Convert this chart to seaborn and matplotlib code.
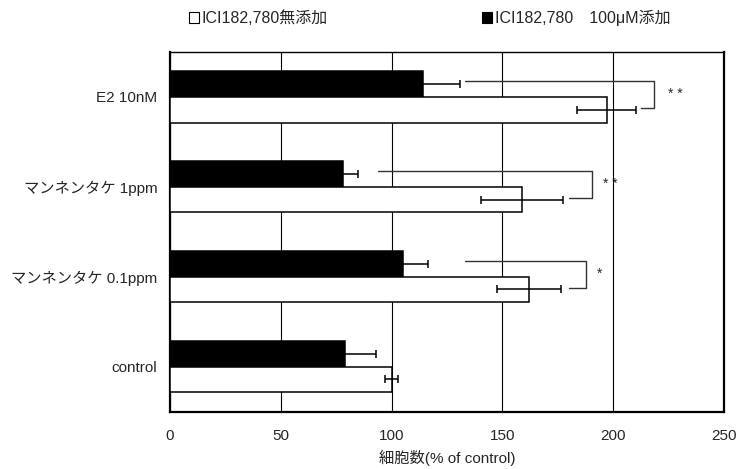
import matplotlib
matplotlib.use("Agg")
import matplotlib.pyplot as plt
from matplotlib.patches import Patch
from matplotlib.ticker import FixedLocator
import seaborn as sns
import pandas as pd
import numpy as np

# ---- data ----
categories = ["E2 10nM", "マンネンタケ 1ppm", "マンネンタケ 0.1ppm", "control"]
series_without = "ICI182,780無添加"
series_with = "ICI182,780\u3000100μM添加"
values_without = [197, 159, 162, 100]
errors_without = [13.5, 18.5, 14.5, 3]
values_with = [114, 78, 105, 79]
errors_with = [17, 7, 11.5, 14]
x_ticks = [0, 50, 100, 150, 200, 250]
x_label = "細胞数(% of control)"
# significance brackets (per category): start of upper arm, vertical x, start of lower arm, mark
sig_categories = ["E2 10nM", "マンネンタケ 1ppm", "マンネンタケ 0.1ppm"]
sig_upper_start = [133, 94, 133]
sig_vertical_x = [218.5, 190.5, 187.5]
sig_lower_start = [212.5, 180, 180]
sig_marks = ["* *", "* *", "*"]
sig_mark_x = [228, 198.5, 194]

sns.set_style("white")
plt.rcParams["font.family"] = ["Liberation Sans", "Noto Sans CJK JP", "DejaVu Sans"]

FS = 11

df = pd.DataFrame({
    "category": categories * 2,
    "series": [series_with] * len(categories) + [series_without] * len(categories),
    "value": values_with + values_without,
})

fig = plt.figure(figsize=(7.37, 4.69), dpi=100)
ax = fig.add_axes([170 / 737, 1 - 411.5 / 469, (724 - 170) / 737, (411.5 - 52) / 469])

sns.barplot(data=df, y="category", x="value", hue="series", order=categories,
            hue_order=[series_with, series_without], palette=["black", "white"],
            edgecolor="black", linewidth=1.1, width=0.57, orient="h",
            errorbar=None, legend=False, ax=ax, zorder=3)

bar_containers = list(ax.containers)

# bar centers computed by seaborn
bar_centers = {}
for cont in bar_containers:
    for cat, bar in zip(categories, cont):
        bar_centers.setdefault(cat, []).append(bar.get_y() + bar.get_height() / 2)

# error bars placed at the bar centers
for cont, errs in zip(bar_containers, [errors_with, errors_without]):
    for bar, e in zip(cont, errs):
        yc = bar.get_y() + bar.get_height() / 2
        ax.errorbar(bar.get_width(), yc, xerr=e, fmt="none", ecolor="black",
                    elinewidth=1.1, capsize=3, capthick=1.1, zorder=4)

# significance brackets between the two bars of a category
for cat, xs, xv, xl, mark, mx in zip(sig_categories, sig_upper_start, sig_vertical_x,
                                     sig_lower_start, sig_marks, sig_mark_x):
    y_top = bar_centers[cat][0] - 0.03
    y_bot = bar_centers[cat][1] - 0.02
    ax.plot([xs, xv, xv, xl], [y_top, y_top, y_bot, y_bot], color="#333333",
            lw=1.0, zorder=5, clip_on=False)
    ax.text(mx, (y_top + y_bot) / 2 - 0.01, mark, ha="center", va="center",
            fontsize=10, zorder=5)

ax.set_xlim(0, 250)
ax.set_ylim(len(categories) - 0.5, -0.5)
ax.set_xticks(x_ticks)
ax.set_xticklabels([str(t) for t in x_ticks])
ax.xaxis.grid(True, color="black", lw=0.8, zorder=0)
ax.yaxis.grid(False)
ax.set_axisbelow(True)
ax.set_ylabel("")
ax.set_xlabel(x_label, fontsize=FS, labelpad=5)
ax.tick_params(axis="x", length=0, pad=12.5, labelsize=FS)
ax.tick_params(axis="y", which="major", length=0, pad=9, labelsize=FS)
ax.yaxis.set_minor_locator(FixedLocator([0.5, 1.5, 2.5]))
ax.tick_params(axis="y", which="minor", direction="in", length=4, width=0.8, color="black")
for s in ax.spines.values():
    s.set_visible(True)
    s.set_color("black")
    s.set_linewidth(1.0)
ax.spines["left"].set_linewidth(1.6)
ax.spines["bottom"].set_linewidth(1.6)
ax.spines["right"].set_linewidth(1.6)

legend_kw = dict(loc="center left", frameon=False, fontsize=11.5, handlelength=0.65,
                 handleheight=0.65, handletextpad=0.15, borderpad=0, borderaxespad=0)
fig.legend(handles=[Patch(facecolor="white", edgecolor="black", linewidth=0.8,
                          label=series_without)],
           bbox_to_anchor=(189 / 737, 1 - 18 / 469), **legend_kw)
fig.legend(handles=[Patch(facecolor="black", edgecolor="black", linewidth=0.8,
                          label=series_with)],
           bbox_to_anchor=(482 / 737, 1 - 18 / 469), **legend_kw)

fig.savefig("out.png", dpi=100)
